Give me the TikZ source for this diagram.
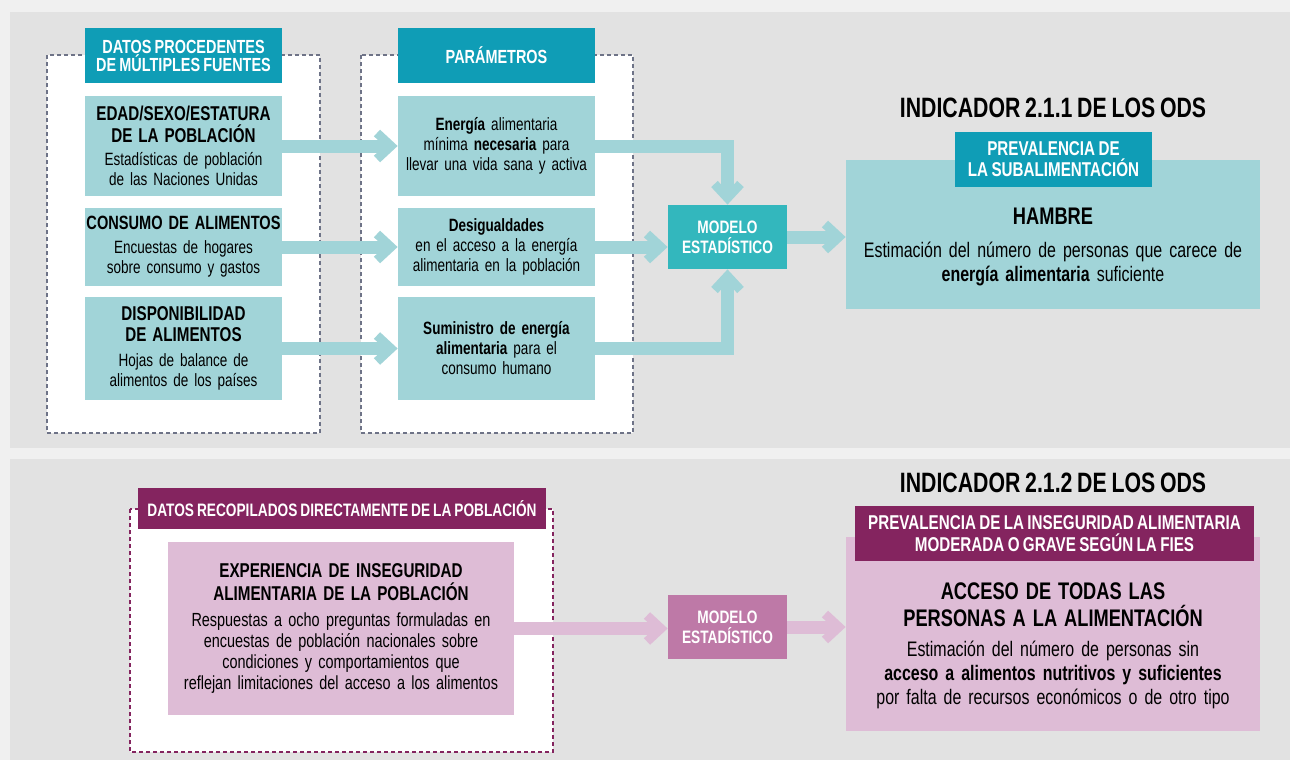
\documentclass[tikz,border=0pt]{standalone}
\usepackage{fontspec}
\setmainfont{Liberation Sans}[FakeStretch=0.76, WordSpace=0.8]
\usetikzlibrary{arrows.meta,positioning}

\definecolor{outerbg}{HTML}{F0F0F0}
\definecolor{panelbg}{HTML}{E2E2E2}
\definecolor{tealdark}{HTML}{0F9DB6}
\definecolor{teallight}{HTML}{A1D4D8}
\definecolor{tealmid}{HTML}{33B7BD}
\definecolor{dashgray}{HTML}{6E7387}
\definecolor{plumdark}{HTML}{84245F}
\definecolor{plumlight}{HTML}{DEBCD6}
\definecolor{plummid}{HTML}{BE79A7}

\newcommand\boxtitle[1]{{\fontsize{10}{11}\selectfont\bfseries #1}}

\tikzset{
  group/.style={fill=white, line width=0.6pt, dash pattern=on 2pt off 1.5pt},
  header/.style={fill=tealdark, text=white, align=center, inner sep=0pt,
    font=\fontsize{9.5}{9}\selectfont\bfseries},
  infobox/.style={fill=teallight, align=center, inner sep=0pt,
    minimum width=98.5pt, text width=96pt, font=\fontsize{8.9}{10}\selectfont},
  modelbox/.style={fill=tealmid, text=white, align=center, inner sep=0pt,
    minimum width=59.5pt, minimum height=32pt, font=\fontsize{9}{10}\selectfont\bfseries},
  bigbox/.style={fill=teallight, minimum width=207pt, inner sep=0pt},
  bigtext/.style={align=center, text width=205pt, inner sep=0pt,
    font=\fontsize{10.5}{12}\selectfont},
  title/.style={font=\fontsize{14}{14}\selectfont\bfseries},
  flow/.style={draw=teallight, line width=6.5pt, line join=miter,
    -{Straight Barb[length=7pt,width=13pt,line width'=4.5pt]}},
}

\begin{document}
\begin{tikzpicture}[x=0.5pt,y=-0.5pt]
\useasboundingbox[fill=outerbg] (0,0) rectangle (1290,760);
\fill[panelbg] (10,12) rectangle (1290,448);
\fill[panelbg] (10,459) rectangle (1290,760);

% inputs and parameters
\path[group, draw=dashgray] (47,55) rectangle (320,433);
\path[group, draw=dashgray] (361,55) rectangle (633,433);

\node[header, minimum width=98.5pt, minimum height=27.5pt] (srchead) at (183.5,55.5)
  {DATOS PROCEDENTES\\DE MÚLTIPLES FUENTES};
\node[header, minimum width=98.5pt, minimum height=27.5pt] (parhead) at (496.5,55.5)
  {PARÁMETROS};

\node[infobox, minimum height=50pt] (age) at (183.5,146)
  {\boxtitle{EDAD/SEXO/ESTATURA\\[1pt]DE LA POBLACIÓN}\\[1.5pt]
   Estadísticas de población\\de las Naciones Unidas};
\node[infobox, minimum height=39pt] (cons) at (183.5,247)
  {{\fontsize{9.6}{11}\selectfont\bfseries\makebox[\linewidth]{CONSUMO DE ALIMENTOS}}\\[2pt]
   Encuestas de hogares\\sobre consumo y gastos};
\node[infobox, minimum height=51.5pt] (avail) at (183.5,348.5)
  {\boxtitle{DISPONIBILIDAD\\[0.5pt]DE ALIMENTOS}\\[2.5pt]
   Hojas de balance de\\alimentos de los países};

\node[infobox, minimum height=50pt] (energy) at (496.5,146)
  {\textbf{Energía} alimentaria\\mínima \textbf{necesaria} para\\llevar una vida sana y activa};
\node[infobox, minimum height=39pt] (ineq) at (496.5,247)
  {\textbf{Desigualdades}\\en el acceso a la energía\\alimentaria en la población};
\node[infobox, minimum height=51.5pt] (supply) at (496.5,348.5)
  {\textbf{Suministro de energía}\\\textbf{alimentaria} para el\\consumo humano};

\node[modelbox] (model) at (727.5,237) {MODELO\\ESTADÍSTICO};

\node[title] (ind1) at (1053,108) {INDICADOR 2.1.1 DE LOS ODS};
\node[bigbox, minimum height=74.5pt] (hunger) at (1053,234.5) {};
\node[header, minimum width=98.5pt, minimum height=27.5pt,
  font=\fontsize{10}{10.5}\selectfont\bfseries] (pouhead) at (1053.5,159.5)
  {PREVALENCIA DE\\LA SUBALIMENTACIÓN};
\node[bigtext] (hungertxt) at (1053,247)
  {{\fontsize{12}{12}\selectfont\bfseries HAMBRE}\\[4.5pt]
   Estimación del número de personas que carece de\\
   \textbf{energía alimentaria} suficiente};

\draw[flow] (age.east) -- (age.east -| energy.west);
\draw[flow] (cons.east) -- (cons.east -| ineq.west);
\draw[flow] (avail.east) -- (avail.east -| supply.west);
\draw[flow] (energy.east) -| (model.north);
\draw[flow] (ineq.east) -- (ineq.east -| model.west);
\draw[flow] (supply.east) -| (model.south);
\draw[flow] (model.east) -- (model.east -| hunger.west);

% experience based scale
\path[group, draw=plumdark] (130,509) rectangle (553,752);
\node[header, fill=plumdark, minimum width=204pt, minimum height=20.5pt,
  font=\fontsize{9}{9}\selectfont\bfseries] (fieshead) at (342,508.5)
  {DATOS RECOPILADOS DIRECTAMENTE DE LA POBLACIÓN};
\node[infobox, fill=plumlight, minimum width=173pt, text width=170pt, minimum height=86.5pt,
  font=\fontsize{9.5}{10.5}\selectfont] (exper) at (341,628.5)
  {\boxtitle{EXPERIENCIA DE INSEGURIDAD\\[1pt]ALIMENTARIA DE LA POBLACIÓN}\\[2.5pt]
   Respuestas a ocho preguntas formuladas en\\
   encuestas de población nacionales sobre\\
   condiciones y comportamientos que\\
   reflejan limitaciones del acceso a los alimentos};

\node[modelbox, fill=plummid] (model2) at (727.5,627) {MODELO\\ESTADÍSTICO};

\node[title] (ind2) at (1053,483) {INDICADOR 2.1.2 DE LOS ODS};
\node[bigbox, fill=plumlight, minimum height=97pt] (access) at (1053,634) {};
\node[header, fill=plumdark, minimum width=199.5pt, minimum height=27.5pt,
  font=\fontsize{10}{11}\selectfont\bfseries] (fieshead2) at (1054.5,533.5)
  {PREVALENCIA DE LA INSEGURIDAD ALIMENTARIA\\MODERADA O GRAVE SEGÚN LA FIES};
\node[bigtext] (accesstxt) at (1053,646)
  {{\fontsize{12}{13.5}\selectfont\bfseries ACCESO DE TODAS LAS\\PERSONAS A LA ALIMENTACIÓN\par}\vspace{3pt}
   Estimación del número de personas sin\\
   \textbf{acceso a alimentos nutritivos y suficientes}\\
   por falta de recursos económicos o de otro tipo};

\draw[flow, draw=plumlight] (exper.east) -- (exper.east -| model2.west);
\draw[flow, draw=plumlight] (model2.east) -- (model2.east -| access.west);
\end{tikzpicture}
\end{document}
